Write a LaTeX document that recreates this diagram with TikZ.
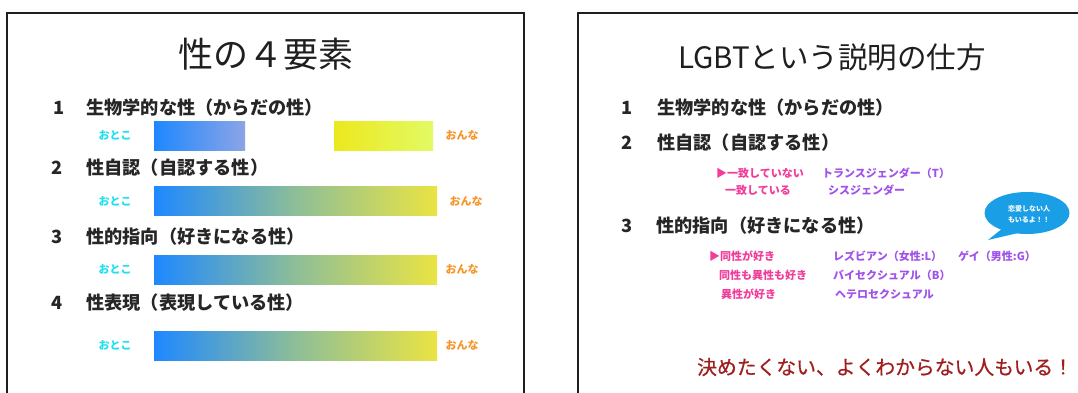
\documentclass[tikz,border=0pt]{standalone}
\usepackage{fontspec}
\usetikzlibrary{shapes.geometric}
\newfontfamily\jp{Noto Sans CJK JP}
\newfontfamily\jpm[FakeBold=0.6]{Noto Sans CJK JP}
\definecolor{otokoc}{HTML}{1EE0F0}
\definecolor{onnac}{HTML}{F5962A}
\definecolor{pinkc}{HTML}{F23C9A}
\definecolor{purpc}{HTML}{A052EA}
\definecolor{redc}{HTML}{A01E1E}
\definecolor{bubc}{HTML}{1A9FE6}
\definecolor{blueL}{HTML}{1E88FF}
\definecolor{blueR}{HTML}{8CA4E6}
\definecolor{yelL}{HTML}{ECE81E}
\definecolor{yelR}{HTML}{E2FA64}
\definecolor{midG}{HTML}{8EBE98}
\definecolor{endY}{HTML}{EAE443}
\tikzset{
  panel/.style={draw=black!88, line width=1.8pt},
  ttl/.style={inner sep=0, font=\jp\fontsize{35}{38}\selectfont, text=black!88},
  ttlr/.style={inner sep=0, font=\jp\fontsize{29.5}{32}\selectfont, text=black!88},
  head/.style={anchor=west, inner sep=0, font=\jp\bfseries\fontsize{18.2}{20}\selectfont, text=black!85},
  num/.style={inner sep=0, font=\jp\bfseries\fontsize{18.2}{20}\selectfont, text=black!85},
  otoko/.style={inner sep=0, text=otokoc, font=\jp\bfseries\fontsize{11}{12}\selectfont},
  onna/.style={inner sep=0, text=onnac, font=\jp\bfseries\fontsize{11}{12}\selectfont},
  bar/.style={inner sep=0, minimum height=29pt, draw=none},
  fullbar/.style={bar, minimum width=283pt, left color=blueL, right color=endY, middle color=midG},
  pk/.style={anchor=west, inner sep=0, text=pinkc, font=\jp\bfseries\fontsize{11}{12}\selectfont},
  pp/.style={anchor=west, inner sep=0, text=purpc, font=\jp\bfseries\fontsize{11}{12}\selectfont},
}
\begin{document}
\begin{tikzpicture}[x=1pt,y=-1pt]
\useasboundingbox (0,0) rectangle (1078,392);
\clip (0,0) rectangle (1078,392);
\fill[white] (0,0) rectangle (1078,392);
% panels
\draw[panel] (7,13) rectangle (524,420);
\draw[panel] (578,13) rectangle (1100,420);
% ---- left panel
\node[ttl] (t1) at (266,54) {性の４要素};
\node[num] (n1) at (59,108) {1};
\node[head] (h1) at (86,108) {生物学的な性（からだの性）};
\node[num] (n2) at (57,168) {2};
\node[head] (h2) at (86,168) {性自認（自認する性）};
\node[num] (n3) at (57,237) {3};
\node[head] (h3) at (86,237) {性的指向（好きになる性）};
\node[num] (n4) at (57,303) {4};
\node[head] (h4) at (86,303) {性表現（表現している性）};
% bars
\node[bar, minimum width=91pt, left color=blueL, right color=blueR] (b1a) at (199.5,135.5) {};
\node[bar, minimum width=99pt, left color=yelL, right color=yelR] (b1b) at (383.5,135.5) {};
\node[fullbar] (b2) at (295.5,201) {};
\node[fullbar] (b3) at (295.5,269.5) {};
\node[fullbar] (b4) at (295.5,345.5) {};
\node[otoko] (m1) at (115,135.5) {おとこ};
\node[onna] (f1) at (462,135.5) {おんな};
\node[otoko] (m2) at (115,201) {おとこ};
\node[onna] (f2) at (466,201) {おんな};
\node[otoko] (m3) at (115,269.5) {おとこ};
\node[onna] (f3) at (462,269.5) {おんな};
\node[otoko] (m4) at (115,345.5) {おとこ};
\node[onna] (f4) at (462,345.5) {おんな};
% ---- right panel
\node[ttlr] (t2) at (832,57) {LGBTという説明の仕方};
\node[num] (r1) at (627,108) {1};
\node[head] (rh1) at (657,108) {生物学的な性（からだの性）};
\node[num] (r2) at (627,143) {2};
\node[head] (rh2) at (657,143) {性自認（自認する性）};
\node[pk] (a1) at (716,173) {▶一致していない};
\node[pp] (a2) at (822,173) {トランスジェンダー（T）};
\node[pk] (a3) at (725,190) {一致している};
\node[pp] (a4) at (828,190) {シスジェンダー};
\node[num] (r3) at (627,226) {3};
\node[head] (rh3) at (656,226) {性的指向（好きになる性）};
\node[pk] (c1) at (709,256) {▶同性が好き};
\node[pp] (c2) at (833,256) {レズビアン（女性:L）};
\node[pp] (c3) at (958,256) {ゲイ（男性:G）};
\node[pk] (c4) at (719,275) {同性も異性も好き};
\node[pp] (c5) at (833,275) {バイセクシュアル（B）};
\node[pk] (c6) at (721,294) {異性が好き};
\node[pp] (c7) at (835,294) {ヘテロセクシュアル};
\node[anchor=west, inner sep=0, text=redc, font=\jpm\fontsize{19.8}{22}\selectfont] (k) at (697,367) {決めたくない、よくわからない人もいる！};
% bubble
\fill[bubc] (1003,228) -- (988,240) -- (1018,233) -- cycle;
\node[ellipse, fill=bubc, minimum width=85pt, minimum height=42pt, inner sep=0] (bub) at (1027,213) {};
\node[inner sep=0, text=white, align=center, font=\jp\bfseries\fontsize{7}{11}\selectfont] (bt) at (1029,214) {恋愛しない人\\もいるよ！！};
\end{tikzpicture}
\end{document}
